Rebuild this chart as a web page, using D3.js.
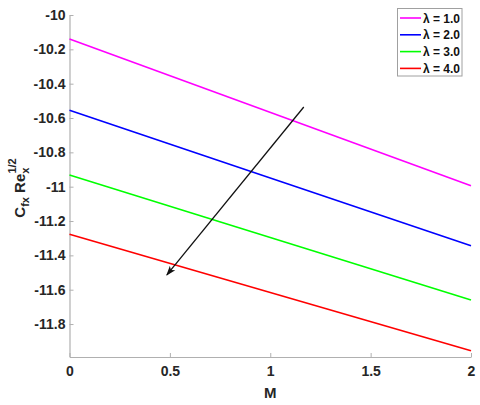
<!DOCTYPE html>
<html><head><meta charset="utf-8">
<script src="https://cdn.jsdelivr.net/npm/d3@7"></script>
<style>body{margin:0;background:#fff}svg text{font-family:"Liberation Sans",Arial,sans-serif;font-weight:bold}</style>
</head><body>
<svg id="c" width="480" height="405"></svg>
<script>
const M = [0, 2];
const lambdaLabels = ["λ = 1.0", "λ = 2.0", "λ = 3.0", "λ = 4.0"];
const cf1 = [-10.14, -10.994];
const cf2 = [-10.555, -11.344];
const cf3 = [-10.932, -11.66];
const cf4 = [-11.277, -11.955];
const colors = ["#ff00ff", "#0000ff", "#00ff00", "#ff0000"];
const xTicks = [0, 0.5, 1, 1.5, 2];
const xTickLabels = ["0", "0.5", "1", "1.5", "2"];
const yTicks = [-10, -10.2, -10.4, -10.6, -10.8, -11, -11.2, -11.4, -11.6, -11.8];
const yTickLabels = ["-10", "-10.2", "-10.4", "-10.6", "-10.8", "-11", "-11.2", "-11.4", "-11.6", "-11.8"];
const arrowFrom = [1.167, -10.536];
const arrowTo = [0.485, -11.514];

const svg = d3.select("#c");
const x = d3.scaleLinear().domain([0, 2]).range([69.5, 471]);
const y = d3.scaleLinear().domain([-11.992, -10]).range([357, 15]);
const axisCol = "#b0b0b0";

// axes
const xa = svg.append("g").attr("transform", "translate(0,357)")
  .call(d3.axisBottom(x).tickValues(xTicks).tickFormat((d, i) => xTickLabels[i]).tickSizeInner(-4).tickSizeOuter(0).tickPadding(9));
const ya = svg.append("g").attr("transform", "translate(69.5,0)")
  .call(d3.axisLeft(y).tickValues(yTicks).tickFormat((d, i) => yTickLabels[i]).tickSizeInner(-4).tickSizeOuter(0).tickPadding(4));
[xa, ya].forEach(g => {
  g.select(".domain").attr("stroke", axisCol).attr("stroke-width", 1.2);
  g.selectAll(".tick line").attr("stroke", axisCol);
  g.selectAll(".tick text").attr("fill", "#262626").style("font-size", "14px").style("font-weight", "bold").style("font-family", "'Liberation Sans',Arial,sans-serif");
});

// lines
const series = [cf1, cf2, cf3, cf4];
const line = d3.line().x(d => x(d[0])).y(d => y(d[1]));
series.forEach((s, i) => {
  svg.append("path").datum(M.map((m, j) => [m, s[j]]))
    .attr("d", line).attr("fill", "none").attr("stroke", colors[i]).attr("stroke-width", 1.6);
});

// arrow
const defs = svg.append("defs");
defs.append("marker").attr("id", "ah").attr("viewBox", "0 0 10 10").attr("refX", 9).attr("refY", 5)
  .attr("markerWidth", 10).attr("markerHeight", 10).attr("markerUnits", "userSpaceOnUse").attr("orient", "auto")
  .append("path").attr("d", "M0,1.5 L10,5 L0,8.5 L2.5,5 Z").attr("fill", "#111");
svg.append("line").attr("x1", x(arrowFrom[0])).attr("y1", y(arrowFrom[1]))
  .attr("x2", x(arrowTo[0])).attr("y2", y(arrowTo[1]))
  .attr("stroke", "#111").attr("stroke-width", 1.3).attr("marker-end", "url(#ah)");

// axis labels
svg.append("text").attr("x", x(1)).attr("y", 398).attr("text-anchor", "middle")
  .style("font-size", "15px").attr("fill", "#262626").text("M");
const yl = svg.append("text").attr("transform", "translate(25,188) rotate(-90)")
  .attr("text-anchor", "middle").style("font-size", "15px").attr("fill", "#262626");
yl.append("tspan").text("C");
yl.append("tspan").attr("dy", 4).style("font-size", "11px").text("fx");
yl.append("tspan").attr("dy", -4).text(" Re");
yl.append("tspan").attr("dy", 4).style("font-size", "11px").text("x");
yl.append("tspan").attr("dy", -13).attr("dx", -6).style("font-size", "11px").text("1/2");

// legend
const lg = svg.append("g");
lg.append("rect").attr("x", 397.5).attr("y", 8.5).attr("width", 64.5).attr("height", 67.5)
  .attr("fill", "#fff").attr("stroke", "#a0a0a0").attr("stroke-width", 1);
lambdaLabels.forEach((t, i) => {
  const yy = 18 + i * 16.8;
  lg.append("line").attr("x1", 400).attr("x2", 421).attr("y1", yy).attr("y2", yy)
    .attr("stroke", colors[i]).attr("stroke-width", 1.6);
  lg.append("text").attr("x", 423).attr("y", yy + 4.5).style("font-size", "12px").attr("fill", "#111").text(t);
});
</script>
</body></html>
